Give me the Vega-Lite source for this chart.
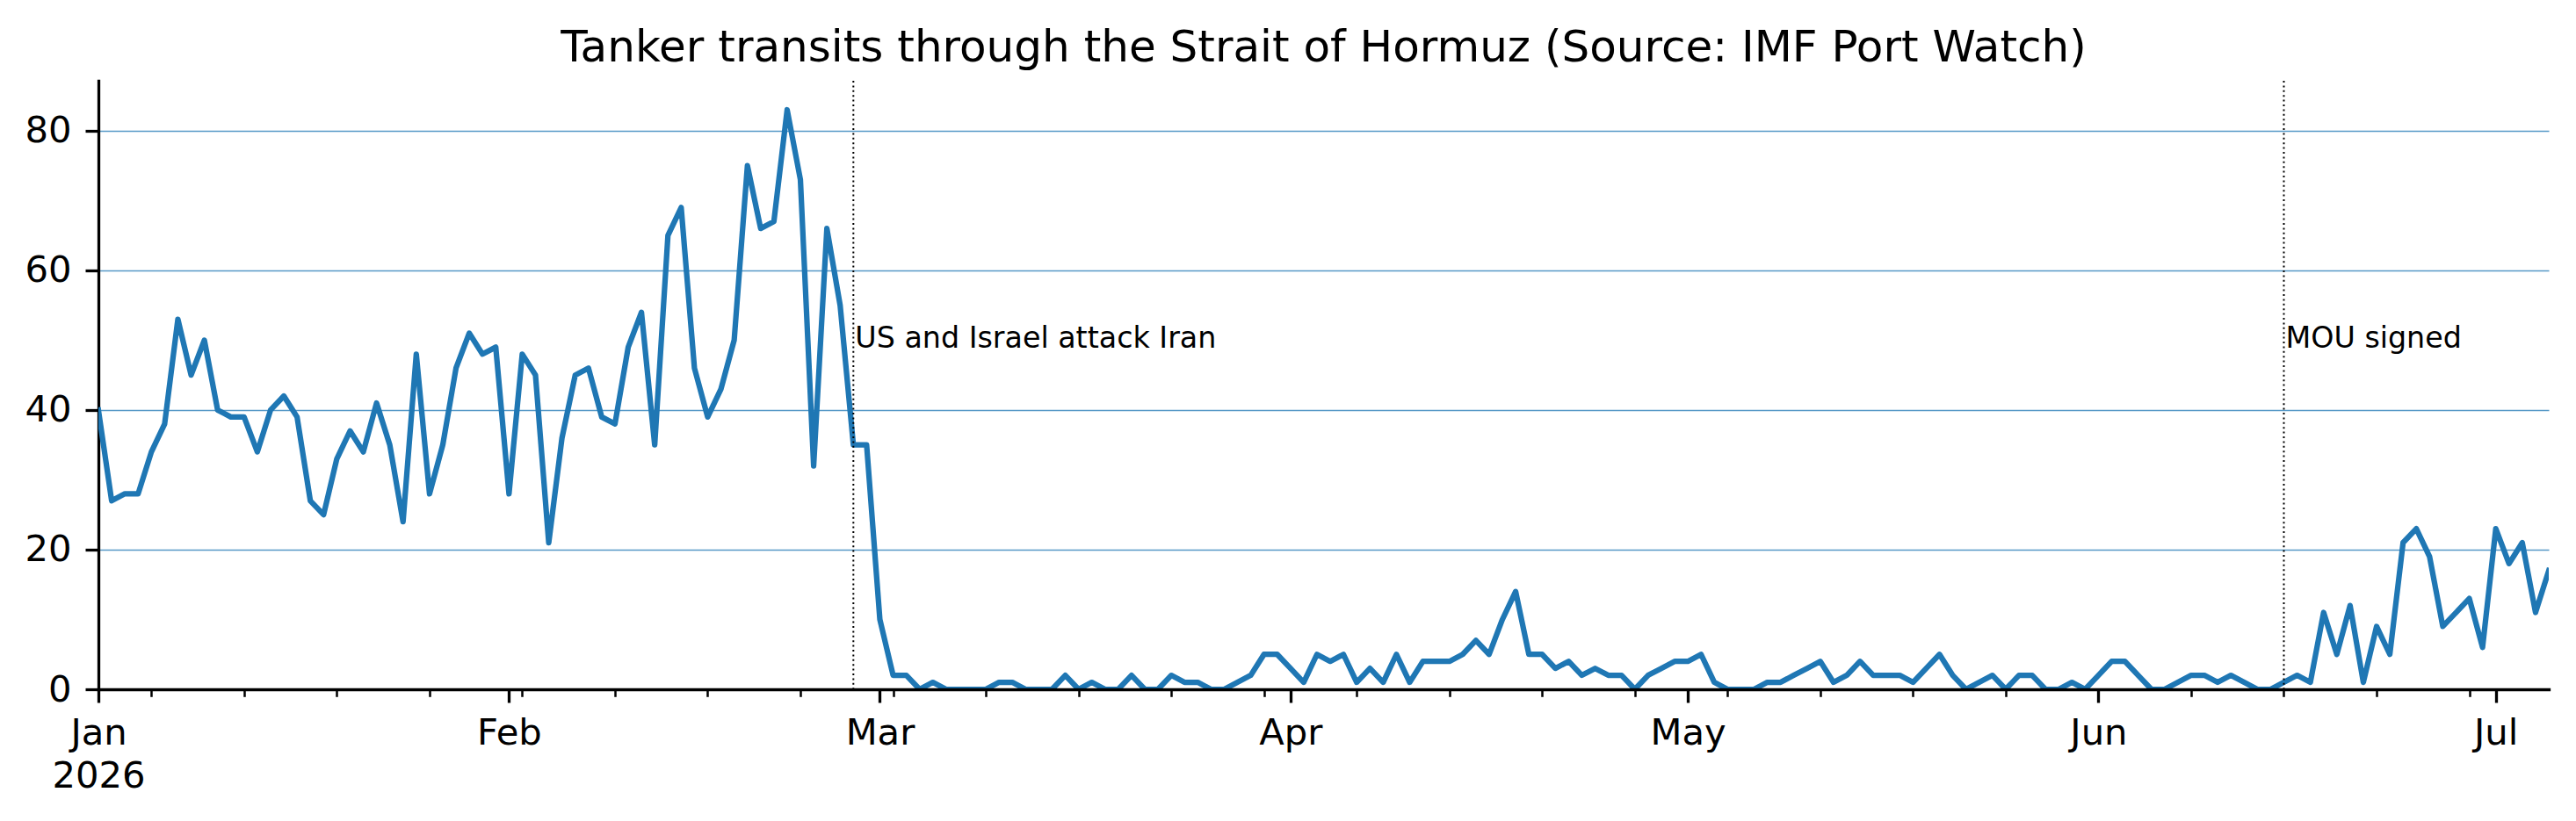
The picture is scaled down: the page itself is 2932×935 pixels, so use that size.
{
  "$schema": "https://vega.github.io/schema/vega-lite/v6.json",
  "width": 2789,
  "height": 693,
  "autosize": "none",
  "padding": {"left": 112, "top": 92, "right": 31, "bottom": 150},
  "background": "white",
  "config": {"view": {"stroke": null}, "font": "DejaVu Sans"},
  "title": {
    "text": "Tanker transits through the Strait of Hormuz (Source: IMF Port Watch)",
    "font": "DejaVu Sans",
    "fontSize": 50,
    "fontWeight": "normal",
    "color": "black",
    "anchor": "middle",
    "frame": "group",
    "offset": 11
  },
  "datasets": {
    "series": [
      {"date": "2026-01-01", "transits": 40}, {"date": "2026-01-02", "transits": 27}, {"date": "2026-01-03", "transits": 28},
      {"date": "2026-01-04", "transits": 28}, {"date": "2026-01-05", "transits": 34}, {"date": "2026-01-06", "transits": 38},
      {"date": "2026-01-07", "transits": 53}, {"date": "2026-01-08", "transits": 45}, {"date": "2026-01-09", "transits": 50},
      {"date": "2026-01-10", "transits": 40}, {"date": "2026-01-11", "transits": 39}, {"date": "2026-01-12", "transits": 39},
      {"date": "2026-01-13", "transits": 34}, {"date": "2026-01-14", "transits": 40}, {"date": "2026-01-15", "transits": 42},
      {"date": "2026-01-16", "transits": 39}, {"date": "2026-01-17", "transits": 27}, {"date": "2026-01-18", "transits": 25},
      {"date": "2026-01-19", "transits": 33}, {"date": "2026-01-20", "transits": 37}, {"date": "2026-01-21", "transits": 34},
      {"date": "2026-01-22", "transits": 41}, {"date": "2026-01-23", "transits": 35}, {"date": "2026-01-24", "transits": 24},
      {"date": "2026-01-25", "transits": 48}, {"date": "2026-01-26", "transits": 28}, {"date": "2026-01-27", "transits": 35},
      {"date": "2026-01-28", "transits": 46}, {"date": "2026-01-29", "transits": 51}, {"date": "2026-01-30", "transits": 48},
      {"date": "2026-01-31", "transits": 49},
      {"date": "2026-02-01", "transits": 28}, {"date": "2026-02-02", "transits": 48}, {"date": "2026-02-03", "transits": 45},
      {"date": "2026-02-04", "transits": 21}, {"date": "2026-02-05", "transits": 36}, {"date": "2026-02-06", "transits": 45},
      {"date": "2026-02-07", "transits": 46}, {"date": "2026-02-08", "transits": 39}, {"date": "2026-02-09", "transits": 38},
      {"date": "2026-02-10", "transits": 49}, {"date": "2026-02-11", "transits": 54}, {"date": "2026-02-12", "transits": 35},
      {"date": "2026-02-13", "transits": 65}, {"date": "2026-02-14", "transits": 69}, {"date": "2026-02-15", "transits": 46},
      {"date": "2026-02-16", "transits": 39}, {"date": "2026-02-17", "transits": 43}, {"date": "2026-02-18", "transits": 50},
      {"date": "2026-02-19", "transits": 75}, {"date": "2026-02-20", "transits": 66}, {"date": "2026-02-21", "transits": 67},
      {"date": "2026-02-22", "transits": 83}, {"date": "2026-02-23", "transits": 73}, {"date": "2026-02-24", "transits": 32},
      {"date": "2026-02-25", "transits": 66}, {"date": "2026-02-26", "transits": 55}, {"date": "2026-02-27", "transits": 35},
      {"date": "2026-02-28", "transits": 35},
      {"date": "2026-03-01", "transits": 10}, {"date": "2026-03-02", "transits": 2}, {"date": "2026-03-03", "transits": 2},
      {"date": "2026-03-04", "transits": 0}, {"date": "2026-03-05", "transits": 1}, {"date": "2026-03-06", "transits": 0},
      {"date": "2026-03-07", "transits": 0}, {"date": "2026-03-08", "transits": 0}, {"date": "2026-03-09", "transits": 0},
      {"date": "2026-03-10", "transits": 1}, {"date": "2026-03-11", "transits": 1}, {"date": "2026-03-12", "transits": 0},
      {"date": "2026-03-13", "transits": 0}, {"date": "2026-03-14", "transits": 0}, {"date": "2026-03-15", "transits": 2},
      {"date": "2026-03-16", "transits": 0}, {"date": "2026-03-17", "transits": 1}, {"date": "2026-03-18", "transits": 0},
      {"date": "2026-03-19", "transits": 0}, {"date": "2026-03-20", "transits": 2}, {"date": "2026-03-21", "transits": 0},
      {"date": "2026-03-22", "transits": 0}, {"date": "2026-03-23", "transits": 2}, {"date": "2026-03-24", "transits": 1},
      {"date": "2026-03-25", "transits": 1}, {"date": "2026-03-26", "transits": 0}, {"date": "2026-03-27", "transits": 0},
      {"date": "2026-03-28", "transits": 1}, {"date": "2026-03-29", "transits": 2}, {"date": "2026-03-30", "transits": 5},
      {"date": "2026-03-31", "transits": 5},
      {"date": "2026-04-01", "transits": 3}, {"date": "2026-04-02", "transits": 1}, {"date": "2026-04-03", "transits": 5},
      {"date": "2026-04-04", "transits": 4}, {"date": "2026-04-05", "transits": 5}, {"date": "2026-04-06", "transits": 1},
      {"date": "2026-04-07", "transits": 3}, {"date": "2026-04-08", "transits": 1}, {"date": "2026-04-09", "transits": 5},
      {"date": "2026-04-10", "transits": 1}, {"date": "2026-04-11", "transits": 4}, {"date": "2026-04-12", "transits": 4},
      {"date": "2026-04-13", "transits": 4}, {"date": "2026-04-14", "transits": 5}, {"date": "2026-04-15", "transits": 7},
      {"date": "2026-04-16", "transits": 5}, {"date": "2026-04-17", "transits": 10}, {"date": "2026-04-18", "transits": 14},
      {"date": "2026-04-19", "transits": 5}, {"date": "2026-04-20", "transits": 5}, {"date": "2026-04-21", "transits": 3},
      {"date": "2026-04-22", "transits": 4}, {"date": "2026-04-23", "transits": 2}, {"date": "2026-04-24", "transits": 3},
      {"date": "2026-04-25", "transits": 2}, {"date": "2026-04-26", "transits": 2}, {"date": "2026-04-27", "transits": 0},
      {"date": "2026-04-28", "transits": 2}, {"date": "2026-04-29", "transits": 3}, {"date": "2026-04-30", "transits": 4},
      {"date": "2026-05-01", "transits": 4}, {"date": "2026-05-02", "transits": 5}, {"date": "2026-05-03", "transits": 1},
      {"date": "2026-05-04", "transits": 0}, {"date": "2026-05-05", "transits": 0}, {"date": "2026-05-06", "transits": 0},
      {"date": "2026-05-07", "transits": 1}, {"date": "2026-05-08", "transits": 1}, {"date": "2026-05-09", "transits": 2},
      {"date": "2026-05-10", "transits": 3}, {"date": "2026-05-11", "transits": 4}, {"date": "2026-05-12", "transits": 1},
      {"date": "2026-05-13", "transits": 2}, {"date": "2026-05-14", "transits": 4}, {"date": "2026-05-15", "transits": 2},
      {"date": "2026-05-16", "transits": 2}, {"date": "2026-05-17", "transits": 2}, {"date": "2026-05-18", "transits": 1},
      {"date": "2026-05-19", "transits": 3}, {"date": "2026-05-20", "transits": 5}, {"date": "2026-05-21", "transits": 2},
      {"date": "2026-05-22", "transits": 0}, {"date": "2026-05-23", "transits": 1}, {"date": "2026-05-24", "transits": 2},
      {"date": "2026-05-25", "transits": 0}, {"date": "2026-05-26", "transits": 2}, {"date": "2026-05-27", "transits": 2},
      {"date": "2026-05-28", "transits": 0}, {"date": "2026-05-29", "transits": 0}, {"date": "2026-05-30", "transits": 1},
      {"date": "2026-05-31", "transits": 0},
      {"date": "2026-06-01", "transits": 2}, {"date": "2026-06-02", "transits": 4}, {"date": "2026-06-03", "transits": 4},
      {"date": "2026-06-04", "transits": 2}, {"date": "2026-06-05", "transits": 0}, {"date": "2026-06-06", "transits": 0},
      {"date": "2026-06-07", "transits": 1}, {"date": "2026-06-08", "transits": 2}, {"date": "2026-06-09", "transits": 2},
      {"date": "2026-06-10", "transits": 1}, {"date": "2026-06-11", "transits": 2}, {"date": "2026-06-12", "transits": 1},
      {"date": "2026-06-13", "transits": 0}, {"date": "2026-06-14", "transits": 0}, {"date": "2026-06-15", "transits": 1},
      {"date": "2026-06-16", "transits": 2}, {"date": "2026-06-17", "transits": 1}, {"date": "2026-06-18", "transits": 11},
      {"date": "2026-06-19", "transits": 5}, {"date": "2026-06-20", "transits": 12}, {"date": "2026-06-21", "transits": 1},
      {"date": "2026-06-22", "transits": 9}, {"date": "2026-06-23", "transits": 5}, {"date": "2026-06-24", "transits": 21},
      {"date": "2026-06-25", "transits": 23}, {"date": "2026-06-26", "transits": 19}, {"date": "2026-06-27", "transits": 9},
      {"date": "2026-06-28", "transits": 11}, {"date": "2026-06-29", "transits": 13}, {"date": "2026-06-30", "transits": 6},
      {"date": "2026-07-01", "transits": 23}, {"date": "2026-07-02", "transits": 18}, {"date": "2026-07-03", "transits": 21},
      {"date": "2026-07-04", "transits": 11}, {"date": "2026-07-05", "transits": 17}
    ],
    "events": [
      {"date": "2026-02-27", "label": "US and Israel attack Iran"},
      {"date": "2026-06-15", "label": "MOU signed"}
    ]
  },
  "resolve": {"axis": {"x": "independent"}, "scale": {"x": "shared", "y": "shared"}},
  "layer": [
    {
      "data": {"name": "series"},
      "mark": {"type": "line", "color": "#1f77b4", "strokeWidth": 6.25, "strokeJoin": "round", "strokeCap": "square", "clip": true},
      "encoding": {
        "x": {
          "field": "date",
          "type": "temporal",
          "scale": {
            "type": "utc",
            "domain": [{"year": 2026, "month": 1, "date": 1, "utc": true}, {"year": 2026, "month": 7, "date": 5, "utc": true}]
          },
          "axis": {
            "title": null,
            "orient": "bottom",
            "grid": false,
            "values": [
              {"year": 2026, "month": 1, "date": 1, "utc": true},
              {"year": 2026, "month": 2, "date": 1, "utc": true},
              {"year": 2026, "month": 3, "date": 1, "utc": true},
              {"year": 2026, "month": 4, "date": 1, "utc": true},
              {"year": 2026, "month": 5, "date": 1, "utc": true},
              {"year": 2026, "month": 6, "date": 1, "utc": true},
              {"year": 2026, "month": 7, "date": 1, "utc": true}
            ],
            "labelExpr": "utcmonth(datum.value) == 0 ? [utcFormat(datum.value, '%b'), utcFormat(datum.value, '%Y')] : utcFormat(datum.value, '%b')",
            "labelFont": "DejaVu Sans",
            "labelFontSize": 41.7,
            "labelColor": "black",
            "labelBaseline": "top",
            "labelLineHeight": 49,
            "labelPadding": 14,
            "labelOverlap": false,
            "labelFlush": false,
            "tickSize": 15,
            "tickWidth": 3.3,
            "tickColor": "black",
            "domainColor": "black",
            "domainWidth": 3.3,
            "domainCap": "square",
            "zindex": 1
          }
        },
        "y": {
          "field": "transits",
          "type": "quantitative",
          "title": null,
          "scale": {"domain": [0, 87.15], "nice": false, "zero": true},
          "axis": {
            "title": null,
            "values": [0, 20, 40, 60, 80],
            "grid": true,
            "gridColor": "#1f77b4",
            "gridWidth": 1.3,
            "gridOpacity": 0.75,
            "labelFont": "DejaVu Sans",
            "labelFontSize": 41.7,
            "labelColor": "black",
            "labelPadding": 16,
            "tickSize": 15,
            "tickWidth": 3.3,
            "tickColor": "black",
            "domainColor": "black",
            "domainWidth": 3.3,
            "domainCap": "square"
          }
        }
      }
    },
    {
      "data": {"name": "events"},
      "mark": {"type": "rule", "color": "black", "strokeWidth": 2, "strokeDash": [2, 3.4]},
      "encoding": {
        "x": {
          "field": "date",
          "type": "temporal",
          "axis": {
            "title": null,
            "orient": "bottom",
            "grid": false,
            "labels": false,
            "domain": false,
            "tickSize": 8.3,
            "tickWidth": 2.5,
            "tickColor": "black",
            "zindex": 1,
            "values": [
              {"year": 2026, "month": 1, "date": 5, "utc": true},
              {"year": 2026, "month": 1, "date": 12, "utc": true},
              {"year": 2026, "month": 1, "date": 19, "utc": true},
              {"year": 2026, "month": 1, "date": 26, "utc": true},
              {"year": 2026, "month": 2, "date": 2, "utc": true},
              {"year": 2026, "month": 2, "date": 9, "utc": true},
              {"year": 2026, "month": 2, "date": 16, "utc": true},
              {"year": 2026, "month": 2, "date": 23, "utc": true},
              {"year": 2026, "month": 3, "date": 2, "utc": true},
              {"year": 2026, "month": 3, "date": 9, "utc": true},
              {"year": 2026, "month": 3, "date": 16, "utc": true},
              {"year": 2026, "month": 3, "date": 23, "utc": true},
              {"year": 2026, "month": 3, "date": 30, "utc": true},
              {"year": 2026, "month": 4, "date": 6, "utc": true},
              {"year": 2026, "month": 4, "date": 13, "utc": true},
              {"year": 2026, "month": 4, "date": 20, "utc": true},
              {"year": 2026, "month": 4, "date": 27, "utc": true},
              {"year": 2026, "month": 5, "date": 4, "utc": true},
              {"year": 2026, "month": 5, "date": 11, "utc": true},
              {"year": 2026, "month": 5, "date": 18, "utc": true},
              {"year": 2026, "month": 5, "date": 25, "utc": true},
              {"year": 2026, "month": 6, "date": 8, "utc": true},
              {"year": 2026, "month": 6, "date": 15, "utc": true},
              {"year": 2026, "month": 6, "date": 22, "utc": true},
              {"year": 2026, "month": 6, "date": 29, "utc": true}
            ]
          }
        }
      }
    },
    {
      "data": {"name": "events"},
      "mark": {"type": "text", "align": "left", "baseline": "alphabetic", "dx": 2, "dy": 9, "font": "DejaVu Sans", "fontSize": 33.3, "color": "black"},
      "encoding": {
        "x": {"field": "date", "type": "temporal", "axis": null},
        "y": {"datum": 50, "type": "quantitative", "title": null},
        "text": {"field": "label", "type": "nominal"}
      }
    }
  ]
}
